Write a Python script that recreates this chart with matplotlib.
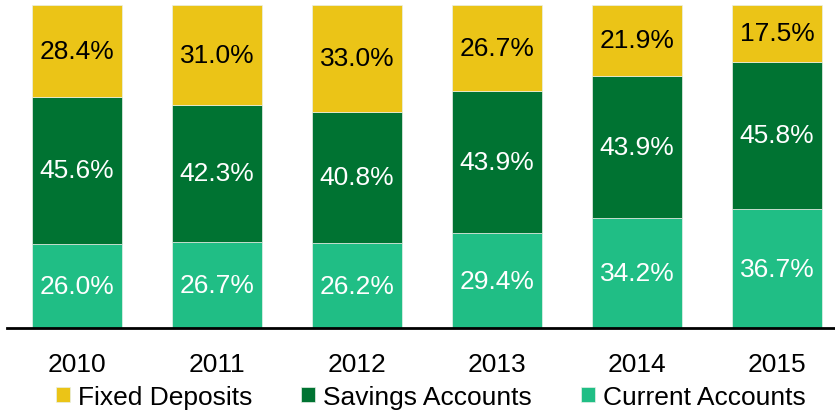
import matplotlib.pyplot as plt

years = ['2010', '2011', '2012', '2013', '2014', '2015']
current = [26.0, 26.7, 26.2, 29.4, 34.2, 36.7]
savings = [45.6, 42.3, 40.8, 43.9, 43.9, 45.8]
fixed = [28.4, 31.0, 33.0, 26.7, 21.9, 17.5]

plt.rcParams['font.family'] = ['Liberation Sans', 'DejaVu Sans']

fig = plt.figure(figsize=(8.35, 4.14), dpi=100)
ax = fig.add_axes([7 / 835, 1 - 329 / 414, 840 / 835, 323 / 414])

x = range(len(years))
w = 0.64
series = [
    ('Current Accounts', current, '#20be85', 'white'),
    ('Savings Accounts', savings, '#007332', 'white'),
    ('Fixed Deposits', fixed, '#ebc417', 'black'),
]
fs = 19
bottom = [0.0] * len(years)
handles = {}
for name, vals, col, tcol in series:
    bars = ax.bar(x, vals, w, bottom=bottom, color=col, edgecolor='#e8f0e8', linewidth=0.5, label=name)
    handles[name] = bars
    for i, v in enumerate(vals):
        ax.text(i, bottom[i] + v / 2, f'{v:.1f}%', ha='center', va='center', color=tcol, fontsize=fs)
    bottom = [b + v for b, v in zip(bottom, vals)]

ax.set_xlim(-0.5, 5.5)
ax.set_ylim(0, 100)
ax.set_xticks(list(x))
ax.set_xticklabels(years, fontsize=fs)
ax.tick_params(axis='x', length=0, pad=17)
ax.set_yticks([])
for s in ['top', 'right', 'left']:
    ax.spines[s].set_visible(False)
ax.spines['bottom'].set_linewidth(2)

order = ['Fixed Deposits', 'Savings Accounts', 'Current Accounts']
fig.legend([handles[n] for n in order], order, loc='center', bbox_to_anchor=(431 / 835, 1 - 398 / 414),
           ncol=3, frameon=False, fontsize=fs, handlelength=0.53, handleheight=0.53,
           handletextpad=0.3, columnspacing=1.85, borderpad=0)

plt.savefig('out.png', dpi=100)
plt.close()
